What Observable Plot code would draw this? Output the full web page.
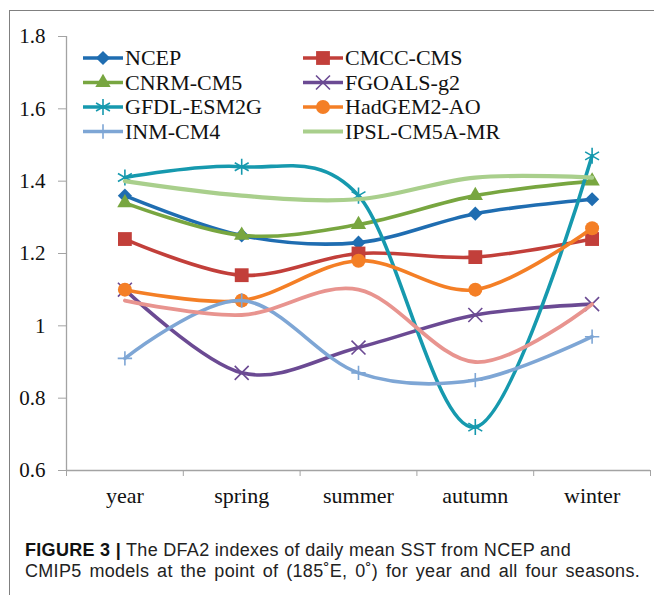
<!DOCTYPE html>
<html>
<head>
<meta charset="utf-8">
<script src="https://cdn.jsdelivr.net/npm/d3@7"></script>
<script src="https://cdn.jsdelivr.net/npm/@observablehq/plot@0.6"></script>
<style>
  html, body { margin: 0; padding: 0; background: #fff; }
  #page { position: relative; width: 654px; height: 595px; overflow: hidden; }
  #frame { position: absolute; left: 9px; top: 10px; width: 700px; height: 640px;
           border-top: 1.5px solid #808080; border-left: 1.5px solid #808080; }
  #chart { position: absolute; left: 0; top: 0; }
  #chart svg text.lg-label { font-family: "Liberation Serif", "Times New Roman", serif !important; font-size: 22px; }
  #caption { position: absolute; left: 25px; top: 540px; font-family: "Liberation Sans", Arial, sans-serif;
             font-size: 18px; letter-spacing: 0.3px; line-height: 21px; color: #222; white-space: nowrap; }
  #caption div { text-align: justify; text-align-last: justify; }
  #caption b { font-weight: bold; color: #111; }
</style>
</head>
<body>
<div id="page">
  <div id="frame"></div>
  <div id="chart"></div>
  <div id="caption">
    <div style="width:544px"><b>FIGURE 3 |</b> The DFA2 indexes of daily mean SST from NCEP and</div>
    <div style="width:615px">CMIP5 models at the point of (185˚E, 0˚) for year and all four seasons.</div>
  </div>
</div>
<script>
// ---- data ----
const seasons = ["year", "spring", "summer", "autumn", "winter"];
const seriesNames = ["NCEP", "CMCC-CMS", "CNRM-CM5", "FGOALS-g2", "GFDL-ESM2G", "HadGEM2-AO", "INM-CM4", "IPSL-CM5A-MR", "(unlabelled)"];
const ncep       = [1.36, 1.25, 1.23, 1.31, 1.35];
const cmccCms    = [1.24, 1.14, 1.20, 1.19, 1.24];
const cnrmCm5    = [1.34, 1.25, 1.28, 1.36, 1.40];
const fgoalsG2   = [1.10, 0.87, 0.94, 1.03, 1.06];
const gfdlEsm2g  = [1.41, 1.44, 1.36, 0.72, 1.47];
const hadgem2Ao  = [1.10, 1.07, 1.18, 1.10, 1.27];
const inmCm4     = [0.91, 1.07, 0.87, 0.85, 0.97];
const ipslCm5aMr = [1.40, 1.36, 1.35, 1.41, 1.41];
const unlabelled = [1.07, 1.03, 1.10, 0.90, 1.06];
const yTicks = [0.6, 0.8, 1.0, 1.2, 1.4, 1.6, 1.8];

// ---- styles ----
const colors  = ["#1f6db1", "#c23f3a", "#78a640", "#6b4a93", "#1699ae", "#f47f26", "#7ea6d5", "#a9cf8c", "#e8948f"];
const symbols = ["diamond2", "square", "triangle", "times", "asterisk", "circle", "plus", null, null];
const radii   = [6.4, 7.8, 5.7, 6.4, 7.6, 7.0, 4.7, 0, 0];
const filled  = [true, true, true, false, false, true, false, false, false];
const widths  = [3.6, 3.6, 3.6, 3.6, 3.6, 3.6, 3.6, 4.2, 3.8];

const allValues = [ncep, cmccCms, cnrmCm5, fgoalsG2, gfdlEsm2g, hadgem2Ao, inmCm4, ipslCm5aMr, unlabelled];
const rows = allValues.map((vals, s) => vals.map((v, i) => ({series: seriesNames[s], season: seasons[i], pos: i + 0.5, value: v})));

const marks = [
  Plot.ruleX([0], {stroke: "#a3a3a3", strokeWidth: 1.3}),
  Plot.ruleY([0.6], {stroke: "#a3a3a3", strokeWidth: 1.3}),
  Plot.axisY({ticks: yTicks, tickSize: 8, tickPadding: 13, stroke: "#a3a3a3",
              tickFormat: d => (d === 1 ? "1" : d3.format(".1f")(d)),
              fontSize: 21, fontFamily: "Liberation Serif", fill: "#111", label: null}),
  Plot.axisX({ticks: d3.range(0, seasons.length + 1), tickSize: 6, stroke: "#a3a3a3", tickFormat: () => "", label: null}),
  Plot.axisX({ticks: seasons.map((s, i) => i + 0.5), tickSize: 0, tickPadding: 17,
              tickFormat: d => seasons[Math.floor(d)], fontSize: 22, fontFamily: "Liberation Serif", fill: "#111", label: null})
];

rows.forEach((data, s) => {
  marks.push(Plot.line(data, {x: "pos", y: "value", stroke: colors[s], strokeWidth: widths[s], curve: "cardinal", strokeLinejoin: "round", strokeLinecap: "round"}));
  if (symbols[s]) {
    marks.push(Plot.dot(data, {x: "pos", y: "value", symbol: () => symbols[s], r: radii[s],
      fill: filled[s] ? colors[s] : "none", stroke: filled[s] ? "none" : colors[s], strokeWidth: filled[s] ? 0 : 1.6}));
  }
});

const chart = Plot.plot({
  width: 654,
  height: 520,
  marginTop: 36,
  marginBottom: 50,
  marginLeft: 66,
  marginRight: 4,
  x: {domain: [0, seasons.length], axis: null},
  y: {domain: [0.6, 1.8], axis: null},
  style: {background: "transparent", overflow: "visible", fontFamily: "Liberation Serif"},
  marks
});
document.getElementById("chart").appendChild(chart);

// ---- legend (two columns, inside the plot area) ----
const symbolTypes = {diamond2: d3.symbolDiamond2, square: d3.symbolSquare, triangle: d3.symbolTriangle,
                     times: d3.symbolTimes, asterisk: d3.symbolAsterisk, circle: d3.symbolCircle, plus: d3.symbolPlus};
const colX = [83, 303];
const rowY = [58, 82.5, 107, 131.5];
const sw = 40;
const lg = d3.select(chart).append("g").attr("class", "legend").attr("text-anchor", "start")
  .attr("font-family", "Liberation Serif").attr("font-size", 22);
seriesNames.slice(0, 8).forEach((name, k) => {
  const col = k % 2, row = Math.floor(k / 2);
  const g = lg.append("g").attr("transform", `translate(${colX[col]},${rowY[row]})`);
  g.append("line").attr("x1", 0).attr("x2", sw).attr("y1", 0).attr("y2", 0)
    .attr("stroke", colors[k]).attr("stroke-width", widths[k]);
  if (symbols[k]) {
    g.append("path").attr("transform", `translate(${sw / 2},0)`)
      .attr("d", d3.symbol(symbolTypes[symbols[k]], Math.PI * radii[k] * radii[k])())
      .attr("fill", filled[k] ? colors[k] : "none")
      .attr("stroke", filled[k] ? "none" : colors[k])
      .attr("stroke-width", 1.6);
  }
  g.append("text").attr("class", "lg-label").attr("x", sw + 2).attr("y", 0).attr("dy", "0.34em")
    .attr("text-anchor", "start").attr("fill", "#111")
    .style("font-family", '"Liberation Serif", "Times New Roman", serif')
    .style("font-size", "22px")
    .text(name);
});
</script>
</body>
</html>
